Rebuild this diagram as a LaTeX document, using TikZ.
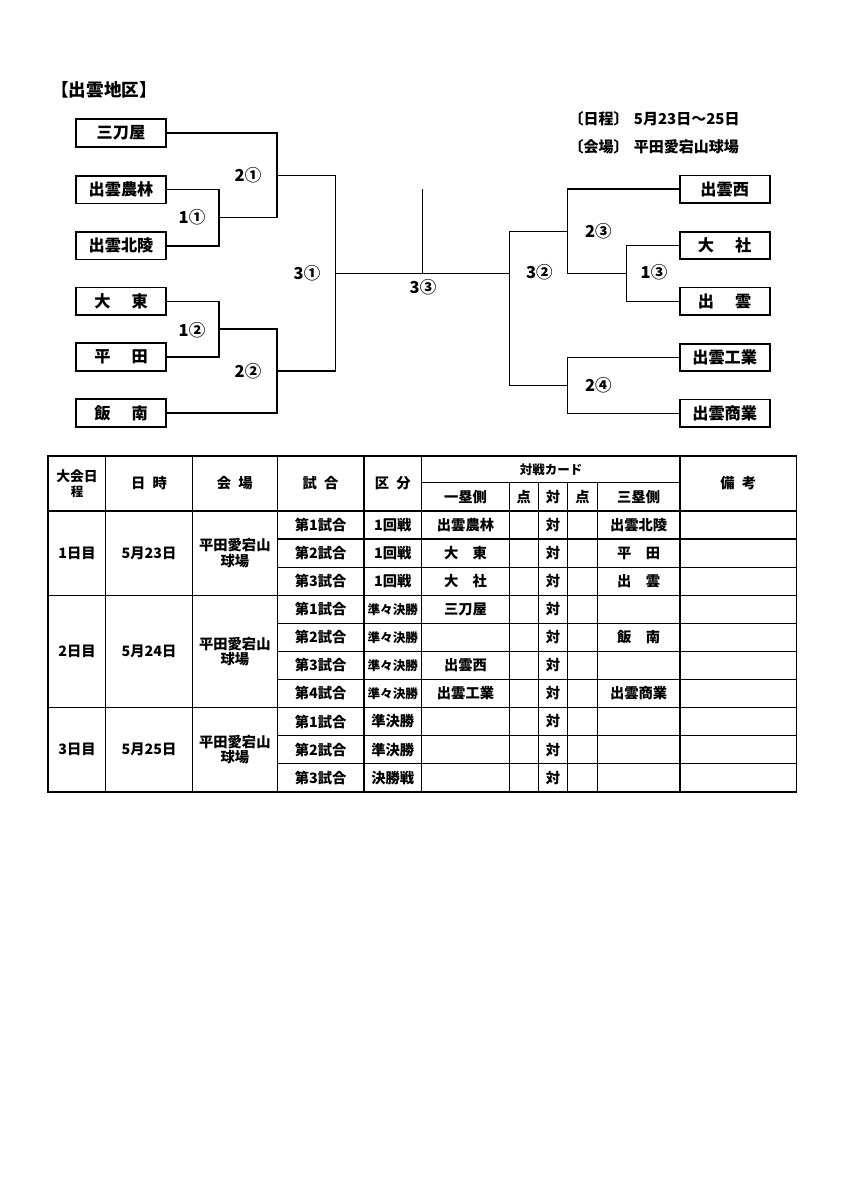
\documentclass[tikz,border=0pt]{standalone}
\usepackage{fontspec}
\setmainfont{Noto Sans CJK JP}
\newcommand{\smq}[1]{{\fontsize{12.6}{14}\selectfont #1}}
\begin{document}
\begin{tikzpicture}[x=1pt,y=-1pt,
  team/.style={draw,line width=1.8pt,minimum width=90pt,minimum height=27.5pt,inner sep=0pt,font=\fontsize{16.2}{16}\selectfont\bfseries},
  br/.style={line width=1.5pt},
  lab/.style={font=\fontsize{16.5}{16}\selectfont\bfseries,inner sep=0pt},
  cell/.style={font=\fontsize{14.3}{15.5}\selectfont\bfseries,inner sep=0pt,align=center},
  small/.style={font=\fontsize{12.5}{15}\selectfont\bfseries,inner sep=0pt,align=center},
  thin/.style={line width=1.2pt},
  thick/.style={line width=1.8pt}]
\useasboundingbox[fill=white] (0,0) rectangle (848,1199);

% title and info
\node[anchor=west,inner sep=0pt,font=\fontsize{17.6}{17}\selectfont\bfseries] (title) at (51,89.5) {【出雲地区】};
\node[anchor=west,inner sep=0pt,font=\fontsize{15}{14}\selectfont\bfseries] (sched) at (568.5,119) {〔日程〕\hspace{0.35em}5月23日～25日};
\node[anchor=west,inner sep=0pt,font=\fontsize{15}{14}\selectfont\bfseries] (venue) at (568.5,146.5) {〔会場〕\hspace{0.35em}平田愛宕山球場};

% left teams
\node[team] (a) at (121,133) {三刀屋};
\node[team] (b) at (121,189.7) {出雲農林};
\node[team] (c) at (121,245.8) {出雲北陵};
\node[team] (d) at (121,301.3) {大\hspace{1.3em}東};
\node[team] (e) at (121,357) {平\hspace{1.3em}田};
\node[team] (f) at (121,413) {飯\hspace{1.3em}南};
% right teams
\node[team] (g) at (724.7,189.2) {出雲西};
\node[team] (h) at (724.7,245.5) {大\hspace{1.3em}社};
\node[team] (i) at (724.7,301.3) {出\hspace{1.3em}雲};
\node[team] (j) at (724.7,357.5) {出雲工業};
\node[team] (k) at (724.7,413.3) {出雲商業};

% junctions
\coordinate (m11) at (219,217.7);
\coordinate (m21) at (277,175.3);
\coordinate (m12) at (219,329.2);
\coordinate (m22) at (277,371.1);
\coordinate (m31) at (335.7,273.3);
\coordinate (top) at (422.3,189.3);
\coordinate (fin) at (422.3,273.3);
\coordinate (m32) at (509.3,273.3);
\coordinate (m13) at (626.7,273.4);
\coordinate (m23) at (567.7,231.3);
\coordinate (m24) at (567.7,385.4);

\draw[br] (b.east) -| (m11) |- (c.east);
\draw[br] (a.east) -| (m21) |- (m11);
\draw[br] (d.east) -| (m12) |- (e.east);
\draw[br] (m12) -| (m22) |- (f.east);
\draw[br] (m21) -| (m31) |- (m22);
\draw[br] (m31) -- (m32);
\draw[br] (fin) -- (top);
\draw[br] (h.west) -| (m13) |- (i.west);
\draw[br] (g.west) -| (m23) |- (m13);
\draw[br] (j.west) -| (m24) |- (k.west);
\draw[br] (m23) -| (m32) |- (m24);

% round labels
\node[lab] (l11) at (192,217.5) {1①};
\node[lab] (l21) at (248,175.3) {2①};
\node[lab] (l12) at (192,330) {1②};
\node[lab] (l22) at (248,371.5) {2②};
\node[lab] (l31) at (307,273.3) {3①};
\node[lab] (l33) at (423,287) {3③};
\node[lab] (l32) at (539.3,272.7) {3②};
\node[lab] (l23) at (598.3,231) {2③};
\node[lab] (l13) at (654,272.7) {1③};
\node[lab] (l24) at (598.3,385) {2④};

% table lines
\foreach \xx in {105.7,192.3,277.3,364,421.7,680}
  \draw[thin] (\xx,456) -- (\xx,791.7);
\foreach \xx in {509.3,538.3,567.7,597.3}
  \draw[thin] (\xx,482.7) -- (\xx,791.7);
\draw[thin] (421.7,482.7) -- (680,482.7);
\draw[thin] (48.3,511) -- (796.5,511);
\foreach \r in {1,2,4,5,6,8,9}
  \draw[thin] (277.3,{511+\r*28.07}) -- (796.5,{511+\r*28.07});
\foreach \r in {3,7}
  \draw[thin] (48.3,{511+\r*28.07}) -- (796.5,{511+\r*28.07});
\draw[thick] (48.3,456) rectangle (796.5,791.7);

% headers
\node[small] (h1) at (77,484) {\fontsize{13.8}{16.5}\selectfont 大会日\\程};
\node[cell] (h2) at (149,483.5) {日\hspace{0.5em}時};
\node[cell] (h3) at (234.8,483.5) {会\hspace{0.5em}場};
\node[cell] (h4) at (320.6,483.5) {試\hspace{0.5em}合};
\node[cell] (h5) at (392.8,483.5) {区\hspace{0.5em}分};
\node[small] (h6) at (551,469.5) {対戦カード};
\node[cell] (h7) at (465.5,496.8) {一塁側};
\node[cell] (h8) at (523.8,496.8) {点};
\node[cell] (h9) at (553,496.8) {対};
\node[cell] (h10) at (582.5,496.8) {点};
\node[cell] (h11) at (638.6,496.8) {三塁側};
\node[cell] (h12) at (738.2,483.5) {備\hspace{0.5em}考};

% day cells
\node[cell] (d1) at (77,553.1) {1日目};
\node[cell] (t1) at (149,553.1) {5月23日};
\node[cell] (w1) at (234.8,553.1) {平田愛宕山\\球場};
\node[cell] (d2) at (77,651.4) {2日目};
\node[cell] (t2) at (149,651.4) {5月24日};
\node[cell] (w2) at (234.8,651.4) {平田愛宕山\\球場};
\node[cell] (d3) at (77,749.6) {3日目};
\node[cell] (t3) at (149,749.6) {5月25日};
\node[cell] (w3) at (234.8,749.6) {平田愛宕山\\球場};

% rows
\foreach \r/\g/\k/\p/\q in {
  1/第1試合/1回戦/出雲農林/出雲北陵,
  2/第2試合/1回戦/大\hspace{1em}東/平\hspace{1em}田,
  3/第3試合/1回戦/大\hspace{1em}社/出\hspace{1em}雲,
  4/第1試合/\smq{準々決勝}/三刀屋/{},
  5/第2試合/\smq{準々決勝}/{}/飯\hspace{1em}南,
  6/第3試合/\smq{準々決勝}/出雲西/{},
  7/第4試合/\smq{準々決勝}/出雲工業/出雲商業,
  8/第1試合/準決勝/{}/{},
  9/第2試合/準決勝/{}/{},
  10/第3試合/決勝戦/{}/{}}{
  \node[cell] (g\r) at (320.6,{511+(\r-0.5)*28.07}) {\g};
  \node[cell] (k\r) at (392.8,{511+(\r-0.5)*28.07}) {\k};
  \node[cell] (p\r) at (465.5,{511+(\r-0.5)*28.07}) {\p};
  \node[cell] (v\r) at (553,{511+(\r-0.5)*28.07}) {対};
  \node[cell] (q\r) at (638.6,{511+(\r-0.5)*28.07}) {\q};
}
\end{tikzpicture}
\end{document}
